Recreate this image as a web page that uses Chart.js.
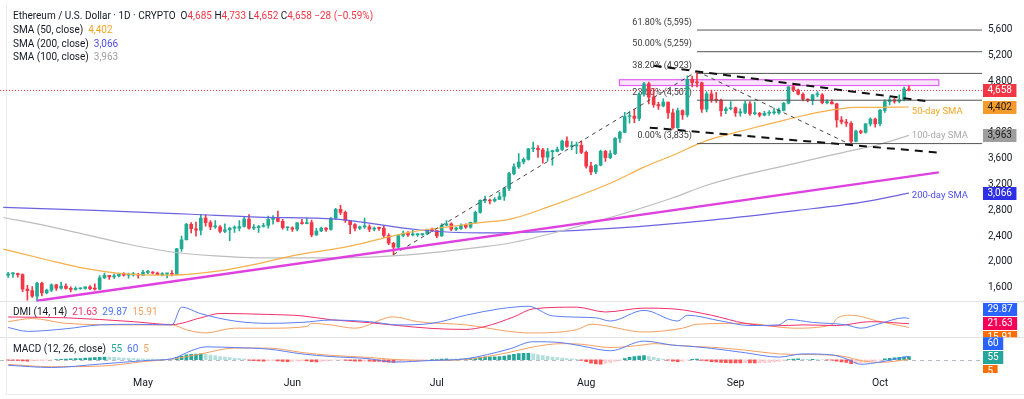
<!DOCTYPE html>
<html>
<head>
<meta charset="utf-8">
<script src="https://cdn.jsdelivr.net/npm/chart.js@4.4.1/dist/chart.umd.min.js"></script>
<style>
  html, body { margin: 0; padding: 0; background: #fff; }
</style>
</head>
<body>
<canvas id="chart" width="1024" height="399"></canvas>
<script>
// ETH/USD daily candles, day index 0 = 1 Apr 2025, first candle is day 2 (3 Apr)
const firstDay = 2;
const opens = [
  1795,1815,1815,1805,1580,1555,1470,1670,1520,1565,1645,1595,1625,1590,1575,1585,1590,1615,1585,1580,1755,1795,1770,1785,1815,1795,1800,1800,
  1795,1840,1840,1830,1805,1815,1815,1810,2205,2345,2585,2515,2495,2680,2610,2545,2545,2475,2500,2525,2525,2550,2665,2525,2530,2550,2565,2660,2680,2630,2530,
  2530,2510,2605,2595,2610,2420,2480,2525,2505,2680,2815,2770,2640,2580,2525,2545,2545,2510,2525,2520,2410,2290,2230,2410,2445,2420,2420,2425,2435,2500,
  2485,2405,2570,2590,2510,2515,2570,2540,2615,2770,2955,2960,2945,2970,3015,3140,3370,3475,3550,3590,3755,3760,3740,3625,3710,3715,3745,3875,3790,3800,3810,
  3700,3485,3395,3500,3715,3615,3680,3915,4010,4255,4260,4225,4600,4760,4555,4440,4420,4480,4310,4080,4345,4280,4830,4780,4775,4370,4605,4510,4505,4345,4375,
  4390,4310,4320,4450,4300,4305,4275,4305,4310,4310,4350,4460,4715,4665,4600,4525,4500,4590,4590,4470,4480,4450,4200,4170,4150,3870,4030,4010,4140,4215,
  4145,4350,4485,4515,4490,4515,4685
];
const highs = [
  1840,1835,1830,1815,1640,1620,1690,1690,1580,1660,1655,1690,1660,1615,1615,1600,1615,1635,1660,1790,1830,1795,1815,1830,1835,1830,1840,1825,
  1870,1870,1850,1845,1835,1820,1865,2210,2400,2600,2610,2620,2740,2730,2640,2640,2565,2590,2535,2560,2640,2700,2735,2580,2570,2600,2710,2720,2790,2660,2545,
  2545,2610,2660,2680,2650,2520,2540,2535,2690,2830,2880,2790,2645,2595,2555,2680,2575,2540,2540,2570,2440,2305,2430,2480,2470,2490,2445,2445,2510,2525,
  2490,2595,2640,2605,2540,2590,2590,2620,2790,2965,3020,2975,3000,3080,3150,3390,3520,3680,3615,3760,3860,3805,3760,3760,3735,3780,3890,3940,3865,3860,3875,
  3720,3545,3510,3735,3730,3725,3930,4030,4320,4330,4365,4625,4785,4790,4690,4475,4530,4480,4370,4385,4360,4885,4880,4955,4790,4640,4665,4630,4525,4400,4485,
  4400,4375,4490,4485,4480,4320,4335,4345,4385,4385,4475,4720,4765,4680,4620,4530,4600,4640,4610,4515,4515,4460,4255,4210,4175,4045,4045,4145,4235,4230,
  4365,4515,4555,4545,4590,4710,4733
];
const lows = [
  1760,1760,1765,1540,1410,1450,1385,1475,1505,1540,1560,1580,1580,1535,1565,1575,1580,1570,1565,1570,1745,1730,1745,1770,1780,1750,1780,1750,
  1790,1820,1815,1800,1785,1755,1785,1805,2165,2340,2450,2400,2420,2555,2500,2520,2450,2455,2330,2460,2480,2540,2510,2500,2460,2540,2525,2585,2620,2510,2490,
  2475,2480,2585,2590,2390,2410,2470,2475,2495,2655,2735,2615,2440,2480,2500,2520,2470,2480,2490,2380,2270,2110,2210,2390,2395,2405,2395,2410,2425,2470,
  2375,2395,2560,2485,2485,2505,2520,2525,2600,2755,2920,2900,2930,2970,2955,3105,3350,3450,3520,3580,3710,3620,3530,3570,3500,3705,3725,3775,3740,3680,3680,
  3455,3355,3370,3490,3560,3600,3665,3855,4005,4150,4160,4190,4570,4450,4400,4365,4405,4225,4060,4070,4210,4250,4715,4715,4320,4325,4475,4475,4260,4300,4355,
  4255,4260,4300,4270,4280,4250,4265,4270,4290,4290,4340,4450,4640,4590,4495,4480,4440,4560,4450,4450,4450,4090,4140,4100,3815,3860,3990,3995,4110,4090,
  4110,4320,4435,4460,4465,4495,4652
];
const closes = [
  1815,1815,1805,1580,1555,1470,1670,1520,1565,1645,1595,1625,1590,1575,1585,1590,1615,1585,1580,1755,1795,1770,1785,1815,1795,1800,1800,1795,
  1840,1840,1830,1805,1815,1815,1810,2205,2345,2585,2515,2495,2680,2610,2545,2545,2475,2500,2525,2525,2550,2665,2525,2530,2550,2565,2660,2680,2630,2530,2530,
  2510,2605,2595,2610,2420,2480,2525,2505,2680,2815,2770,2640,2580,2525,2545,2545,2510,2525,2520,2410,2290,2230,2410,2445,2420,2420,2425,2435,2500,2485,
  2405,2570,2590,2510,2515,2570,2540,2615,2770,2955,2960,2945,2970,3015,3140,3370,3475,3550,3590,3755,3760,3740,3625,3710,3715,3745,3875,3790,3800,3810,3700,
  3485,3395,3500,3715,3615,3680,3915,4010,4255,4260,4225,4600,4760,4555,4440,4420,4480,4310,4080,4345,4280,4830,4780,4775,4370,4605,4510,4505,4345,4375,4390,
  4310,4320,4450,4300,4305,4275,4305,4310,4310,4350,4460,4715,4665,4600,4525,4500,4590,4590,4470,4480,4450,4200,4170,4150,3870,4030,4010,4140,4215,4145,
  4350,4485,4515,4490,4515,4685,4658
];
const macdHist = [
  -8,-10,-12,-22,-25,-20,-18,-15,-8,-2, 4,8,10,14,18,22,28,32,36,42, 46,44,40,34,28,24,20,16,14,12,
  10,8,6,4,3,40,62,84,94,98, 102,92,80,68,56,46,36,26,18,10, -6,-14,-20,-24,-20,-16,-22,-30,-34,-30,
  -24,-18,-20,-32,-36,-30,-22,-12,-4,-2, -8,-18,-24,-26,-24,-26,-28,-30,-36,-42, -46,-38,-30,-22,-16,-10,-6,-2,2,4,
  10,14,12,10,12,14,18,28,40,46, 48,50,56,64,80,94,104,108,110,100, 86,70,58,46,36,30,22,14,6,-10,
  -34,-58,-72,-76,-64,-50,-30,-12,18,42, 56,64,70,56,40,26,12,-6,-26,-32, -28,-8,6,12,-10,-22,-32,-38,-46,-50,
  -54,-56,-56,-52,-54,-56,-54,-50,-44,-36, -28,-18,2,12,14,10,6,6,4,0, -2,-6,-24,-38,-48,-66,-64,-56,-46,-34,
  -24,-8,14,26,34,40,52,55
];

// moving averages, [day, value]
const sma50 = [[1,2200],[10,2035],[18,1900],[25,1825],[35,1795],[45,1855],[54,1975],[62,2110],[72,2230],[85,2455],[95,2560],[100,2610],[106,2660],[114,2850],[127,3220],[134,3470],[140,3655],[147,3880],[155,4045],[163,4195],[171,4330],[178,4395],[189,4402]];
const sma100 = [[1,2690],[10,2560],[18,2425],[27,2275],[36,2155],[45,2095],[54,2065],[70,2065],[85,2110],[100,2230],[106,2290],[120,2545],[130,2755],[140,2995],[147,3190],[155,3355],[165,3520],[171,3625],[177,3725],[183,3825],[189,3963]];
const sma200 = [[1,2845],[20,2800],[40,2740],[54,2695],[70,2665],[87,2500],[100,2450],[114,2470],[128,2525],[148,2650],[166,2800],[179,2924],[189,3066]];

// DMI (14, 14)
const dmiPlus = [[2,15.8],[6,9.8],[14,13.8],[21,19.8],[28,20.7],[36,19.8],[38,47.3],[42,37.2],[49,25.8],[56,22.2],[63,23.7],[69,27.3],[77,24.8],[83,19.8],[90,22.2],[97,34.8],[104,44.7],[107,47.3],[110,48.8],[115,33.8],[124,30.8],[127,25.8],[134,42.3],[141,25.8],[143,34.8],[150,25.8],[156,18.8],[162,19.8],[164,28.2],[169,23.7],[176,19.8],[179,14.7],[183,21.8],[188,30.8],[189,29.87]];
const adx = [[2,32],[14,30.8],[28,24.8],[36,20.3],[42,30.8],[46,37.5],[56,36],[63,33.8],[69,27.8],[77,23.3],[83,18.8],[90,14.3],[97,12.8],[101,17.3],[107,32.3],[111,44.7],[120,47.3],[126,39.8],[134,45.8],[140,44.7],[148,34.8],[155,22.2],[161,18.3],[167,19.8],[174,18.8],[181,24.8],[189,21.63]];
const dmiMinus = [[2,24.8],[7,29.7],[14,22.2],[28,19.8],[36,19.8],[39,12.3],[43,7.3],[49,14.7],[56,14.7],[64,17.3],[65,22.2],[69,19.8],[74,14.7],[82,32.3],[87,24.8],[97,19.8],[106,9.8],[110,7.3],[120,12.3],[123,20.8],[134,8.8],[142,14.7],[145,20.8],[155,22.2],[165,14.7],[173,19.8],[174,29.7],[177,34.8],[183,24.8],[189,15.91]];

// MACD (12, 26, close)
const macdLine = [[2,-95],[11,-133],[21,-75],[31,-12],[36,17],[40,154],[43,221],[49,209],[56,183],[63,100],[69,55],[77,17],[82,-40],[90,-12],[97,17],[106,183],[111,309],[117,292],[121,237],[127,154],[134,320],[140,250],[144,228],[148,195],[155,120],[162,45],[167,100],[173,83],[176,17],[179,-78],[183,-40],[189,60]];
const signalLine = [[2,-80],[11,-120],[21,-110],[31,-25],[36,10],[42,100],[49,200],[56,200],[63,125],[69,75],[77,40],[82,5],[90,-12],[97,5],[106,126],[111,220],[117,276],[121,266],[127,210],[134,255],[136,276],[141,245],[145,225],[148,215],[155,165],[162,100],[167,90],[173,80],[176,50],[179,-15],[183,-45],[189,5]];

// drawings
const fibLevels = [5595, 5259, 4923, 4507, 3835];
const fibNames = ['61.80% (5,595)', '50.00% (5,259)', '38.20% (4,923)', '23.60% (4,507)', '0.00% (3,835)'];
const fibDays = [145, 204.2];
const supportLine = [[8,1400],[195.2,3389]];
const upperChannel = [[136,5042],[193,4490]];
const lowerChannel = [[135.2,4082],[195.2,3695]];
const riseLine = [[82,2115],[145,4955]];
const fallLine = [[145,4955],[177,3815]];
const zoneDays = [128.9, 195.2];
const zonePrices = [4735, 4825];

const monthTicks = [30, 61, 91, 122, 153, 183];
const monthLabels = ['May', 'Jun', 'Jul', 'Aug', 'Sep', 'Oct'];
const priceTicks = [1600, 2000, 2400, 2800, 3200, 3600, 4000, 4400, 4800, 5200, 5600];

const UP = '#22ab94', DOWN = '#f23645';
const FONT = 'Roboto, "Open Sans", sans-serif';

const candleColors = closes.map((c, i) => c >= opens[i] ? UP : DOWN);
const histColors = macdHist.map((v, i) => {
  const prev = i > 0 ? macdHist[i - 1] : v;
  if (v >= 0) return v >= prev ? '#26a69a' : '#b2dfdb';
  return v <= prev ? '#ff5252' : '#ffcdd2';
});
const pts = arr => arr.map(p => ({ x: p[0], y: p[1] }));

function seg(data, color, width, dash, order) {
  return {
    type: 'line', data: pts(data), borderColor: color, borderWidth: width,
    borderDash: dash || [], pointRadius: 0, fill: false, order: order || 1, yAxisID: 'y'
  };
}
function curve(data, color, axis, width) {
  return {
    type: 'line', data: pts(data), borderColor: color, borderWidth: width || 1,
    pointRadius: 0, fill: false, cubicInterpolationMode: 'monotone', order: 5, yAxisID: axis
  };
}

const datasets = [
  {
    type: 'bar', yAxisID: 'y', order: 11, grouped: false, barThickness: 1,
    data: closes.map((c, i) => ({ x: firstDay + i, y: [lows[i], highs[i]] })),
    backgroundColor: candleColors
  },
  {
    type: 'bar', yAxisID: 'y', order: 10, grouped: false, barThickness: 3, minBarLength: 1,
    data: closes.map((c, i) => ({ x: firstDay + i, y: [opens[i], c] })),
    backgroundColor: candleColors
  },
  curve(sma50, '#f5b04a', 'y', 1.2),
  curve(sma100, '#bdbdbd', 'y', 1.2),
  curve(sma200, '#6c62e2', 'y', 1.2),
  seg(supportLine, '#e040e0', 2.5),
  seg(upperChannel, '#111111', 2, [8, 6]),
  seg(lowerChannel, '#111111', 2, [8, 6]),
  seg(riseLine, '#444444', 1, [4, 4]),
  seg(fallLine, '#444444', 1, [4, 4]),
  ...fibLevels.map(v => seg([[fibDays[0], v], [fibDays[1], v]], '#555555', 1, [], 2)),
  curve(dmiPlus, '#5b7ff5', 'yDmi'),
  curve(adx, '#f0306a', 'yDmi'),
  curve(dmiMinus, '#f5a060', 'yDmi'),
  {
    type: 'bar', yAxisID: 'yMacd', order: 6, grouped: false, barThickness: 3,
    data: macdHist.map((v, i) => ({ x: firstDay + i, y: v })),
    backgroundColor: histColors
  },
  curve(macdLine, '#5b7ff5', 'yMacd'),
  curve(signalLine, '#f5a060', 'yMacd')
];

function drawParts(ctx, x, y, parts) {
  parts.forEach(([t, c]) => {
    ctx.fillStyle = c;
    ctx.fillText(t, x, y);
    x += ctx.measureText(t).width;
  });
}

function valueBox(ctx, y, text, bg, fg) {
  ctx.font = '10px ' + FONT;
  const w = ctx.measureText(text).width + 9;
  ctx.fillStyle = bg;
  ctx.fillRect(983, Math.round(y - 6.5), w, 13);
  ctx.fillStyle = fg;
  ctx.textAlign = 'left';
  ctx.textBaseline = 'middle';
  ctx.fillText(text, 987.5, y + 0.5);
}

// TradingView style: boxes that would overlap get pushed apart
function spreadBoxes(ctx, scale, items) {
  const sorted = items.map(it => ({ ...it, py: scale.getPixelForValue(it.v) })).sort((a, b) => a.py - b.py);
  const mean = sorted.reduce((s, it) => s + it.py, 0) / sorted.length;
  ctx.save();
  ctx.beginPath();
  ctx.rect(982, scale.top, 42, scale.bottom - scale.top);
  ctx.clip();
  sorted.forEach((it, i) => {
    valueBox(ctx, mean + (i - (sorted.length - 1) / 2) * 14, it.t, it.bg, it.fg);
  });
  ctx.restore();
}

const decorations = {
  id: 'decorations',
  beforeDatasetsDraw(chart) {
    const { ctx, chartArea, scales } = chart;
    const x = scales.x, y = scales.y, yM = scales.yMacd, yD = scales.yDmi;
    ctx.save();
    // pane separators and frame
    ctx.strokeStyle = '#e0e3eb';
    ctx.lineWidth = 1;
    [yD.top, yM.top].forEach(t => {
      ctx.beginPath();
      ctx.moveTo(0, Math.round(t) + 0.5);
      ctx.lineTo(chart.width, Math.round(t) + 0.5);
      ctx.stroke();
    });
    ctx.strokeStyle = '#ececec';
    ctx.beginPath();
    ctx.moveTo(6.5, 3); ctx.lineTo(6.5, 394.5); ctx.lineTo(chart.width, 394.5);
    ctx.stroke();

    // supply zone
    const zx0 = x.getPixelForValue(zoneDays[0]), zx1 = x.getPixelForValue(zoneDays[1]);
    const zy0 = y.getPixelForValue(zonePrices[1]), zy1 = y.getPixelForValue(zonePrices[0]);
    ctx.fillStyle = 'rgba(225, 80, 240, 0.16)';
    ctx.fillRect(zx0, zy0, zx1 - zx0, zy1 - zy0);
    ctx.strokeStyle = '#e060f0';
    ctx.lineWidth = 1.2;
    ctx.strokeRect(zx0, zy0, zx1 - zx0, zy1 - zy0);

    // last price line
    const lp = Math.round(y.getPixelForValue(closes[closes.length - 1])) + 0.5;
    ctx.strokeStyle = '#f23645';
    ctx.lineWidth = 1;
    ctx.setLineDash([1, 2]);
    ctx.beginPath(); ctx.moveTo(chartArea.left, lp); ctx.lineTo(chartArea.right, lp); ctx.stroke();

    // MACD zero line
    const z = Math.round(yM.getPixelForValue(0)) + 0.5;
    ctx.strokeStyle = '#b8bcc6';
    ctx.setLineDash([4, 4]);
    ctx.beginPath(); ctx.moveTo(chartArea.left, z); ctx.lineTo(chartArea.right, z); ctx.stroke();
    ctx.setLineDash([]);

    // fibonacci labels, left of the levels
    ctx.font = '9px ' + FONT;
    ctx.fillStyle = '#3a3a3a';
    ctx.textAlign = 'right';
    ctx.textBaseline = 'bottom';
    const fx = x.getPixelForValue(fibDays[0]) - 5;
    fibLevels.forEach((v, i) => ctx.fillText(fibNames[i], fx, y.getPixelForValue(v) - 3));
    ctx.restore();
  },
  afterDraw(chart) {
    const { ctx, scales } = chart;
    const x = scales.x, y = scales.y;
    ctx.save();
    ctx.textAlign = 'left';
    ctx.textBaseline = 'middle';

    // moving average tags
    ctx.font = '9.5px ' + FONT;
    const lx = x.getPixelForValue(189.6);
    ctx.fillStyle = '#f5a623';
    ctx.fillText('50-day SMA', lx, y.getPixelForValue(4335));
    ctx.fillStyle = '#a9a9a9';
    ctx.fillText('100-day SMA', lx, y.getPixelForValue(3963));
    ctx.fillStyle = '#4f4fe8';
    ctx.fillText('200-day SMA', lx, y.getPixelForValue(3035));

    // legends
    ctx.font = '10px ' + FONT;
    const dark = '#131722';
    drawParts(ctx, 13, 16, [
      ['Ethereum / U.S. Dollar · 1D · CRYPTO  ', dark],
      ['O', dark], ['4,685', DOWN], [' H', dark], ['4,733', DOWN],
      [' L', dark], ['4,652', DOWN], [' C', dark], ['4,658', DOWN], [' −28 (−0.59%)', DOWN]
    ]);
    drawParts(ctx, 13, 30.5, [['SMA (50, close)  ', dark], ['4,402', '#f5a623']]);
    drawParts(ctx, 13, 44, [['SMA (200, close)  ', dark], ['3,066', '#4b4be8']]);
    drawParts(ctx, 13, 57.5, [['SMA (100, close)  ', dark], ['3,963', '#a0a0a0']]);
    drawParts(ctx, 13, 312.5, [['DMI (14, 14)  ', dark], ['21.63  ', '#f0306a'], ['29.87  ', '#4a72f5'], ['15.91', '#f5a060']]);
    drawParts(ctx, 13, 349.5, [['MACD (12, 26, close)  ', dark], ['55  ', '#26a69a'], ['60  ', '#4a72f5'], ['5', '#f5a060']]);

    // price scale tags
    valueBox(ctx, y.getPixelForValue(closes[closes.length - 1]), '4,658', '#f23645', '#ffffff');
    valueBox(ctx, y.getPixelForValue(sma50[sma50.length - 1][1]), '4,402', '#f59b2b', '#1a1a1a');
    valueBox(ctx, y.getPixelForValue(sma100[sma100.length - 1][1]), '3,963', '#9e9e9e', '#1a1a1a');
    valueBox(ctx, y.getPixelForValue(sma200[sma200.length - 1][1]), '3,066', '#2f2fe6', '#ffffff');

    spreadBoxes(ctx, scales.yDmi, [
      { v: 29.87, t: '29.87', bg: '#2962ff', fg: '#fff' },
      { v: 21.63, t: '21.63', bg: '#f50057', fg: '#fff' },
      { v: 15.91, t: '15.91', bg: '#ff6d00', fg: '#fff' }
    ]);
    spreadBoxes(ctx, scales.yMacd, [
      { v: 60, t: '60', bg: '#2962ff', fg: '#fff' },
      { v: 55, t: '55', bg: '#26a69a', fg: '#fff' },
      { v: 5, t: '5', bg: '#ff6d00', fg: '#fff' }
    ]);
    ctx.restore();
  }
};

const sideAxis = (extra) => Object.assign({
  type: 'linear', position: 'right', stack: 'panes',
  grid: { display: false, drawTicks: false }, border: { display: false },
  afterFit: s => { s.width = 42; }
}, extra);

new Chart(document.getElementById('chart'), {
  type: 'line',
  data: { datasets },
  options: {
    responsive: false,
    animation: false,
    layout: { padding: 0 },
    plugins: { legend: { display: false }, tooltip: { enabled: false } },
    scales: {
      x: {
        type: 'linear', min: 0.313, max: 204.17, offset: false,
        grid: { display: false, drawTicks: false, offset: false }, border: { display: false },
        afterBuildTicks: s => { s.ticks = monthTicks.map(v => ({ value: v })); },
        afterFit: s => { s.height = 26; },
        ticks: {
          autoSkip: false, maxRotation: 0, padding: 4, color: '#131722',
          font: { family: FONT, size: 10.5 },
          callback: (v, i) => monthLabels[i]
        }
      },
      y: sideAxis({
        stackWeight: 299, min: 1389.5, max: 5874.5,
        afterBuildTicks: s => { s.ticks = priceTicks.map(v => ({ value: v })); },
        ticks: {
          padding: 6, color: '#131722', font: { family: FONT, size: 10 },
          callback: v => v.toLocaleString('en-US')
        }
      }),
      yDmi: sideAxis({ stackWeight: 37, min: 0.75, max: 56.25, ticks: { display: false } }),
      yMacd: sideAxis({ stackWeight: 37, min: -227.4, max: 386.8, ticks: { display: false } })
    }
  },
  plugins: [decorations]
});
</script>
</body>
</html>
